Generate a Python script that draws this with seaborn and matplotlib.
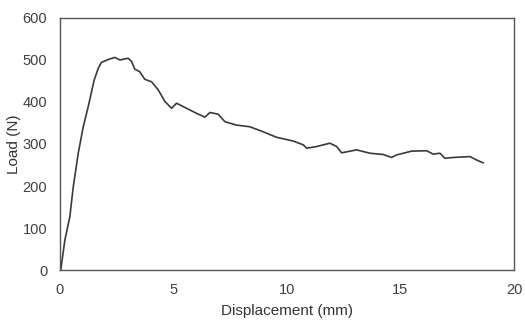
import matplotlib
matplotlib.use("Agg")
import matplotlib.pyplot as plt
import seaborn as sns
import pandas as pd

displacement = [0.04, 0.22, 0.44, 0.59, 0.81, 1.03, 1.25, 1.51, 1.69, 1.83, 2.13, 2.42, 2.64, 3.01,
                3.16, 3.30, 3.52, 3.74, 4.04, 4.33, 4.63, 4.92, 5.14, 5.58, 6.02, 6.39, 6.61, 6.97,
                7.27, 7.78, 8.37, 8.96, 9.54, 10.28, 10.72, 10.87, 11.31, 11.75, 11.89, 12.19, 12.41,
                13.07, 13.66, 14.24, 14.61, 14.83, 15.49, 16.15, 16.44, 16.74, 16.96, 17.33, 18.06,
                18.35, 18.65]
load = [0, 71, 127, 198, 278, 341, 389, 452, 480, 494, 501, 506, 500, 504,
        496, 478, 472, 454, 448, 429, 401, 385, 397, 385, 373, 364, 375, 371,
        353, 345, 341, 329, 316, 307, 298, 290, 294, 300, 302, 294, 279,
        286, 278, 275, 268, 274, 283, 284, 276, 278, 266, 268, 270,
        262, 255]

xticks = [0, 5, 10, 15, 20]
yticks = [0, 100, 200, 300, 400, 500, 600]

df = pd.DataFrame({"Displacement": displacement, "Load": load})

sns.set_style("white")
plt.rcParams['font.family'] = ['Liberation Sans', 'DejaVu Sans']

fig = plt.figure(figsize=(5.25, 3.2), dpi=100)
ax = fig.add_axes([0.114, 0.156, 0.865, 0.788])
sns.lineplot(data=df, x="Displacement", y="Load", ax=ax, color="#3a3a3a", linewidth=1.2,
             sort=False, estimator=None)
ax.set_xlim(0, 20)
ax.set_ylim(0, 600)
ax.set_xticks(xticks)
ax.set_yticks(yticks)
ax.tick_params(axis="both", length=0, labelsize=10.5, colors="#404040")
ax.tick_params(axis="x", pad=9)
ax.tick_params(axis="y", pad=9)
ax.set_xlabel("Displacement (mm)", fontsize=11, color="#333333", labelpad=5)
ax.set_ylabel("Load (N)", fontsize=11, color="#333333", labelpad=1)
for s in ax.spines.values():
    s.set_visible(True)
    s.set_color("#555555")
    s.set_linewidth(1.0)

fig.savefig("out.png", dpi=100)
